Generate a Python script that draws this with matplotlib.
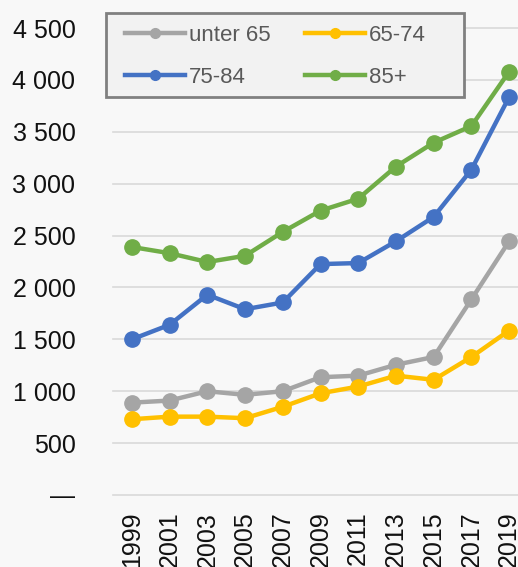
"""
Line chart by age group, 1999-2019 (recreated).
"""

import matplotlib

matplotlib.use("Agg")

import matplotlib.pyplot as plt
from matplotlib.lines import Line2D
from matplotlib.patches import Rectangle
from matplotlib.ticker import FuncFormatter, MultipleLocator

plt.rcParams["font.family"] = ["Liberation Sans", "DejaVu Sans"]

years = ["1999", "2001", "2003", "2005", "2007", "2009", "2011", "2013", "2015", "2017", "2019"]

unter_65 = [890, 910, 1000, 965, 1000, 1135, 1150, 1255, 1330, 1885, 2445]
age_65_74 = [730, 755, 755, 740, 850, 980, 1045, 1150, 1110, 1330, 1585]
age_75_84 = [1500, 1640, 1930, 1790, 1855, 2225, 2235, 2445, 2680, 3135, 3835]
age_85_plus = [2390, 2330, 2245, 2305, 2535, 2740, 2855, 3165, 3395, 3555, 4080]

series = [
    ("unter 65", unter_65, "#a5a5a5"),
    ("65-74", age_65_74, "#ffc000"),
    ("75-84", age_75_84, "#4472c4"),
    ("85+", age_85_plus, "#70ad47"),
]

BG = "#f8f8f8"


def fmt_thousands(v, _pos):
    if v == 0:
        return "—"
    return f"{int(v):,}".replace(",", " ")


def main() -> None:
    fig = plt.figure(figsize=(5.18, 5.67), dpi=100, facecolor=BG)
    # plot area runs past the right edge, as in the cropped original
    ax = fig.add_axes([113 / 518, 72 / 567, 415 / 518, 467 / 567])
    ax.set_facecolor(BG)

    x = list(range(len(years)))
    handles = {}
    for label, vals, color in series:
        ax.plot(x, vals, color=color, linewidth=3.2, marker="o", markersize=11, zorder=3)
        handles[label] = Line2D(
            [], [], color=color, linewidth=3.2, marker="o", markersize=7, label=label
        )

    ax.set_xlim(-0.5, len(years) - 0.5)
    ax.set_ylim(0, 4500)
    ax.yaxis.set_major_locator(MultipleLocator(500))
    ax.yaxis.set_major_formatter(FuncFormatter(fmt_thousands))
    ax.set_xticks(x)
    ax.set_xticklabels(years, rotation=90)

    ax.grid(axis="y", color="#d9d9d9", linewidth=1.2)
    ax.set_axisbelow(True)
    for gl in ax.get_ygridlines():
        gl.set_clip_on(False)
    for sp in ax.spines.values():
        sp.set_visible(False)
    ax.tick_params(axis="both", length=0, labelsize=18, colors="#111111")
    ax.tick_params(axis="y", pad=27)
    ax.tick_params(axis="x", pad=12)
    ax.yaxis.get_major_ticks()[0].label1.set_fontsize(14)

    # legend box
    fig.patches.append(
        Rectangle(
            (106 / 518, 1 - 97 / 567),
            358 / 518,
            84 / 567,
            transform=fig.transFigure,
            facecolor="#f2f2f2",
            edgecolor="#808080",
            linewidth=2,
            zorder=5,
        )
    )
    # ncol fills column-wise, so order gives rows: unter 65 | 65-74, 75-84 | 85+
    order = ["unter 65", "75-84", "65-74", "85+"]
    leg = fig.legend(
        handles=[handles[k] for k in order],
        loc="upper left",
        bbox_to_anchor=(125 / 518, 1 - 25 / 567),
        ncol=2,
        frameon=False,
        fontsize=16,
        borderpad=0,
        borderaxespad=0,
        handlelength=2.7,
        handletextpad=0.18,
        columnspacing=1.55,
        labelspacing=0.95,
    )
    leg.set_zorder(6)
    for t in leg.get_texts():
        t.set_color("#595959")

    fig.savefig("out.png", dpi=100, facecolor=BG)
    plt.close(fig)


if __name__ == "__main__":
    main()
